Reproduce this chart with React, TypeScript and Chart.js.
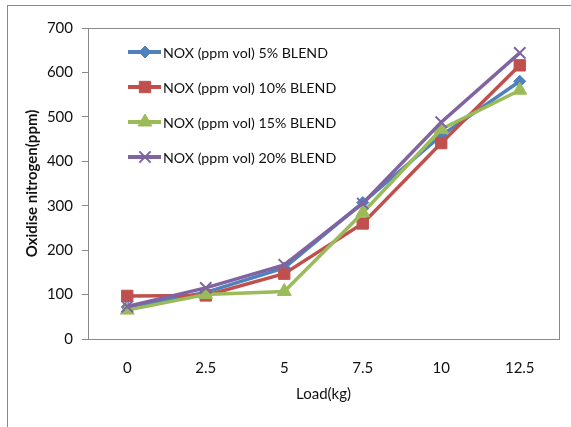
import React, { useEffect, useRef } from 'react';
import { Chart, registerables } from 'chart.js';
import { drawPoint } from 'chart.js/helpers';

Chart.register(...registerables);

const loads = ['0', '2.5', '5', '7.5', '10', '12.5'];
const blend5 = [72, 105, 160, 307, 458, 580];
const blend10 = [97, 98, 147, 260, 441, 616];
const blend15 = [65, 100, 107, 284, 472, 560];
const blend20 = [73, 115, 167, 305, 488, 644];
const seriesLabels = [
  'NOX (ppm vol) 5% BLEND',
  'NOX (ppm vol) 10% BLEND',
  'NOX (ppm vol) 15% BLEND',
  'NOX (ppm vol) 20% BLEND',
];
const yMin = 0;
const yMax = 700;
const yStep = 100;
const xTitle = 'Load(kg)';
const yTitle = 'Oxidise nitrogen(ppm)';

const FONT = "Lato, 'Liberation Sans', sans-serif";
const colors = ['#4F81BD', '#C0504D', '#9BBB59', '#8064A2'];
const styles = ['rectRot', 'rect', 'triangle', 'crossRot'];
const radii = [6, 8, 8, 8];
const pointBorders = [1, 1, 1, 2];

const framePlugin = {
  id: 'framePlugin',
  beforeDraw(chart: any) {
    const ctx = chart.ctx;
    ctx.save();
    ctx.fillStyle = '#ffffff';
    ctx.fillRect(0, 0, chart.width, chart.height);
    ctx.strokeStyle = '#8a8a8a';
    ctx.lineWidth = 1;
    ctx.strokeRect(7.5, 5.5, 700, 600);
    ctx.restore();
  },
  beforeDatasetsDraw(chart: any) {
    const { ctx, chartArea } = chart;
    ctx.save();
    ctx.strokeStyle = '#8a8a8a';
    ctx.lineWidth = 1;
    ctx.strokeRect(
      Math.round(chartArea.left) + 0.5,
      Math.round(chartArea.top) + 0.5,
      Math.round(chartArea.right - chartArea.left),
      Math.round(chartArea.bottom - chartArea.top)
    );
    ctx.restore();
  },
  afterDatasetsDraw(chart: any) {
    const ctx = chart.ctx;
    ctx.save();
    chart.data.datasets.forEach((ds: any, i: number) => {
      const y = 52 + i * 35;
      ctx.strokeStyle = ds.borderColor;
      ctx.lineWidth = 4;
      ctx.beginPath();
      ctx.moveTo(128, y);
      ctx.lineTo(161, y);
      ctx.stroke();
      ctx.fillStyle = ds.pointBackgroundColor;
      ctx.strokeStyle = ds.pointBorderColor;
      ctx.lineWidth = ds.pointBorderWidth;
      drawPoint(ctx, { pointStyle: ds.pointStyle, radius: ds.pointRadius, rotation: 0, borderWidth: ds.pointBorderWidth }, 145, y);
      ctx.fillStyle = '#111111';
      ctx.font = `14.2px ${FONT}`;
      ctx.textBaseline = 'middle';
      ctx.textAlign = 'left';
      ctx.fillText(ds.label, 163, y + 1);
    });
    ctx.restore();
  },
};

export default function App() {
  const ref = useRef<HTMLCanvasElement | null>(null);
  useEffect(() => {
    if (!ref.current) return;
    const series = [blend5, blend10, blend15, blend20];
    const chart = new Chart(ref.current, {
      type: 'line',
      data: {
        labels: loads,
        datasets: series.map((d, i) => ({
          label: seriesLabels[i],
          data: d,
          borderColor: colors[i],
          backgroundColor: colors[i],
          borderWidth: 3.5,
          pointStyle: styles[i],
          pointRadius: radii[i],
          pointBackgroundColor: colors[i],
          pointBorderColor: colors[i],
          pointBorderWidth: pointBorders[i],
          tension: 0,
          fill: false,
          order: 4 - i,
        })),
      },
      options: {
        animation: false,
        responsive: false,
        layout: { padding: { top: 28, right: 12, left: 0, bottom: 0 } },
        plugins: { legend: { display: false }, tooltip: { enabled: false } },
        scales: {
          x: {
            offset: true,
            grid: { display: false, drawTicks: false },
            border: { display: true, color: '#8a8a8a' },
            ticks: { color: '#111111', font: { family: FONT, size: 15 }, padding: 20, maxRotation: 0 },
            title: {
              display: true,
              text: xTitle,
              color: '#111111',
              font: { family: FONT, size: 15 },
              padding: { top: 0, bottom: 24 },
            },
            afterFit(scale: any) {
              scale.height = 88;
            },
          },
          y: {
            min: yMin,
            max: yMax,
            grid: { drawOnChartArea: false, drawTicks: true, tickLength: 6, color: '#8a8a8a' },
            border: { display: true, color: '#8a8a8a' },
            ticks: { stepSize: yStep, color: '#111111', font: { family: FONT, size: 15 }, padding: 9 },
            title: {
              display: true,
              text: yTitle,
              color: '#111111',
              font: { family: FONT, size: 15, weight: 'bold' },
              padding: { top: 23, bottom: 0 },
            },
            afterFit(scale: any) {
              scale.width = 88;
            },
          },
        },
      },
      plugins: [framePlugin],
    } as any);
    return () => chart.destroy();
  }, []);
  return (
    <div style={{ position: 'fixed', left: 0, top: 0, width: 571, height: 427, background: '#fff' }}>
      <canvas ref={ref} width={571} height={427} style={{ display: 'block', width: 571, height: 427 }} />
    </div>
  );
}
